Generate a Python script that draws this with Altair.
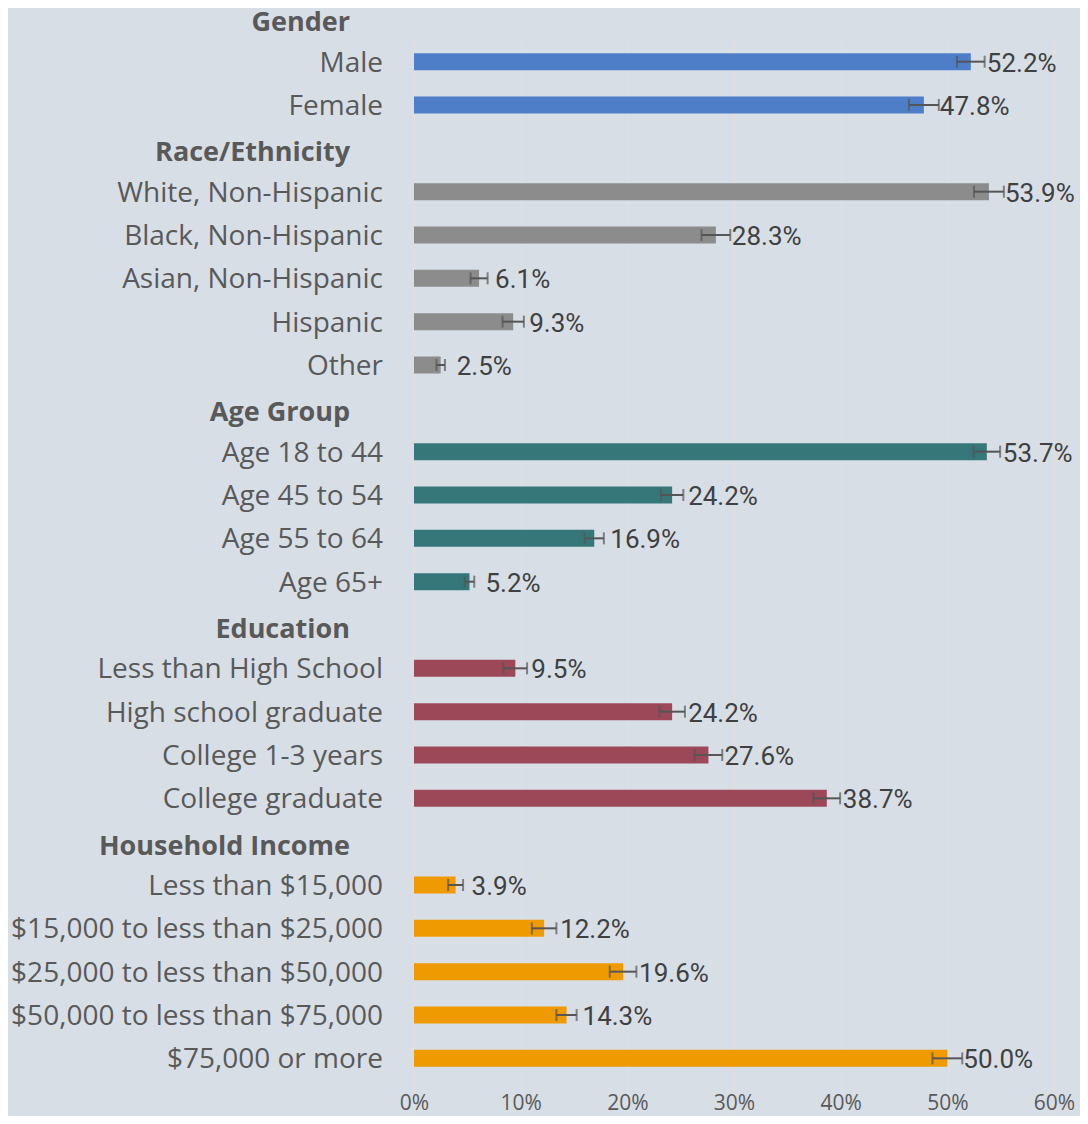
import altair as alt
import pandas as pd

# ---- data ----
group_names = ["Gender", "Race/Ethnicity", "Age Group", "Education", "Household Income"]
group_colors = ["#4f7ec9", "#8c8c8c", "#36777a", "#9c4858", "#ef9a00"]

gender_labels = ["Male", "Female"]
gender_values = [52.2, 47.8]
gender_errors = [1.3, 1.4]

race_labels = ["White, Non-Hispanic", "Black, Non-Hispanic", "Asian, Non-Hispanic", "Hispanic", "Other"]
race_values = [53.9, 28.3, 6.1, 9.3, 2.5]
race_errors = [1.4, 1.35, 0.8, 1.0, 0.4]

age_labels = ["Age 18 to 44", "Age 45 to 54", "Age 55 to 64", "Age 65+"]
age_values = [53.7, 24.2, 16.9, 5.2]
age_errors = [1.25, 1.05, 0.9, 0.45]

edu_labels = ["Less than High School", "High school graduate", "College 1-3 years", "College graduate"]
edu_values = [9.5, 24.2, 27.6, 38.7]
edu_errors = [1.1, 1.2, 1.3, 1.25]

inc_labels = ["Less than $15,000", "$15,000 to less than $25,000", "$25,000 to less than $50,000",
              "$50,000 to less than $75,000", "$75,000 or more"]
inc_values = [3.9, 12.2, 19.6, 14.3, 50.0]
inc_errors = [0.7, 1.15, 1.25, 0.95, 1.4]

x_ticks = [0, 10, 20, 30, 40, 50, 60]

sections = [
    (gender_labels, gender_values, gender_errors),
    (race_labels, race_values, race_errors),
    (age_labels, age_values, age_errors),
    (edu_labels, edu_values, edu_errors),
    (inc_labels, inc_values, inc_errors),
]

rows = []
for gname, (labs, vals, errs) in zip(group_names, sections):
    rows.append({"label": gname, "group": gname, "header": True,
                 "value": None, "lo": None, "hi": None, "txt": ""})
    for l, v, e in zip(labs, vals, errs):
        rows.append({"label": l, "group": gname, "header": False, "value": v,
                     "lo": v - e, "hi": v + e, "txt": f"{v:.1f}%"})
df = pd.DataFrame(rows)
order = list(df["label"])

W = 640
H = 1040
step = H / (len(order) - 1)

FONT = "Open Sans"
NUM_FONT = "Roboto"

y_enc = alt.Y("label:N", sort=order, axis=None,
              scale=alt.Scale(domain=order, range=[-step, H], paddingInner=0, paddingOuter=0))
x_scale = alt.Scale(domain=[0, 60], nice=False)

base = alt.Chart(df)
items = base.transform_filter("!datum.header")
heads = base.transform_filter("datum.header")

bars = items.mark_bar(size=17).encode(
    x=alt.X("value:Q", scale=x_scale,
            axis=alt.Axis(values=x_ticks, labelExpr="datum.value + '%'", title=None,
                          domain=False, ticks=False, grid=True, gridColor="#e3dfdf",
                          gridWidth=1, labelFont=FONT, labelFontSize=21, labelFlush=False,
                          labelColor="#595959", labelPadding=12)),
    y=y_enc,
    color=alt.Color("group:N", scale=alt.Scale(domain=group_names, range=group_colors), legend=None),
)

err = items.mark_rule(color="#555555", strokeWidth=2).encode(
    x=alt.X("lo:Q", scale=x_scale), x2="hi:Q", y=y_enc)
cap_lo = items.mark_tick(color="#555555", thickness=2, size=12, orient="vertical").encode(
    x=alt.X("lo:Q", scale=x_scale), y=y_enc)
cap_hi = items.mark_tick(color="#555555", thickness=2, size=12, orient="vertical").encode(
    x=alt.X("hi:Q", scale=x_scale), y=y_enc)

vals = items.mark_text(align="left", baseline="middle", dx=16, dy=2, font=NUM_FONT,
                       fontSize=26, color="#404040").encode(
    x=alt.X("value:Q", scale=x_scale), y=y_enc, text="txt:N")

item_labels = items.mark_text(align="right", baseline="middle", dy=2, font=FONT,
                              fontSize=28, color="#595959").encode(
    x=alt.value(-31), y=y_enc, text="label:N")

head_labels = heads.mark_text(align="right", baseline="middle", dy=5, font=FONT,
                              fontSize=27, fontWeight="bold", color="#595959").encode(
    x=alt.value(-64), y=y_enc, text="label:N")

chart = alt.layer(bars, err, cap_lo, cap_hi, vals, item_labels, head_labels).properties(
    width=W, height=H,
    background="#d7dee6",
    padding={"left": 406, "top": 32, "right": 26, "bottom": 36},
    autosize=alt.AutoSizeParams(type="none"),
).configure_view(stroke=None)

chart.save("out.html", embed_options={"renderer": "svg", "actions": False})
